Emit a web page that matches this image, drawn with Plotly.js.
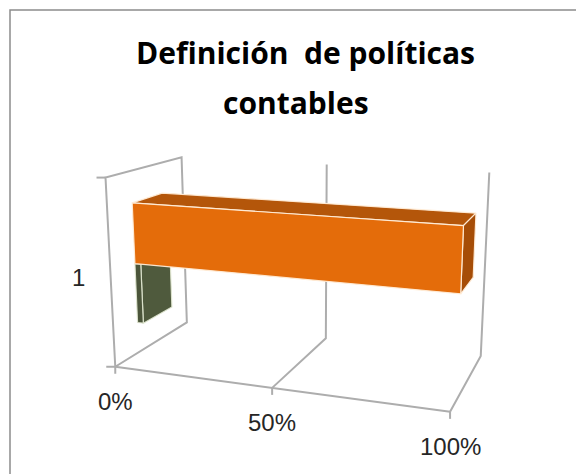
<!DOCTYPE html>
<html>
<head>
<meta charset="utf-8">
<script src="https://cdn.plot.ly/plotly-3.0.1.min.js"></script>
<style>html,body{margin:0;padding:0;background:#fff;}#chart{width:576px;height:474px;}</style>
</head>
<body>
<div id="chart"></div>
<script>
// ---------------- data ----------------
var titleLines = ["Definición\u00a0 de políticas", "contables"];
var categories = ["1"];
var seriesNames = ["Serie 1", "Serie 2"];
var greenValues = [0.02];    // series 1 (lower bar)
var orangeValues = [0.99];   // series 2 (upper bar)
var tickValues = [0, 0.5, 1];
var tickLabels = ["0%", "50%", "100%"];

// ------------- 3-D projection (camera calibrated on the chart box) -------------
// box coordinates: X = value (0..1), Y = depth (0 front .. 1 back), Z = height (0..1)
var calib = [
  [0,0,0, 115,367], [0,0,1, 105,178], [0,1,1, 182,158], [0,1,0, 187,322],
  [1,0,0, 450,411], [1,1,0, 481,357], [1,1,1, 489,173],
  [0.5,1,0, 325,338], [0.5,1,1, 327,163], [0.5,0,0, 273,388]
];
function solveCamera(pts) {
  var n = 11, AtA = [], Atb = [];
  for (var i = 0; i < n; i++) { AtA.push(new Array(n).fill(0)); Atb.push(0); }
  function addRow(r, b) {
    for (var i = 0; i < n; i++) { Atb[i] += r[i] * b; for (var j = 0; j < n; j++) AtA[i][j] += r[i] * r[j]; }
  }
  pts.forEach(function (p) {
    var X = p[0], Y = p[1], Z = p[2], u = p[3], v = p[4];
    addRow([X, Y, Z, 1, 0, 0, 0, 0, -u * X, -u * Y, -u * Z], u);
    addRow([0, 0, 0, 0, X, Y, Z, 1, -v * X, -v * Y, -v * Z], v);
  });
  for (var c = 0; c < n; c++) {
    var piv = c;
    for (var r = c + 1; r < n; r++) if (Math.abs(AtA[r][c]) > Math.abs(AtA[piv][c])) piv = r;
    var t = AtA[c]; AtA[c] = AtA[piv]; AtA[piv] = t; var tb = Atb[c]; Atb[c] = Atb[piv]; Atb[piv] = tb;
    for (var r2 = 0; r2 < n; r2++) {
      if (r2 === c) continue;
      var f = AtA[r2][c] / AtA[c][c];
      for (var k = c; k < n; k++) AtA[r2][k] -= f * AtA[c][k];
      Atb[r2] -= f * Atb[c];
    }
  }
  return Atb.map(function (b, i) { return b / AtA[i][i]; });
}
var P = solveCamera(calib);
function proj(X, Y, Z) {
  var w = P[8] * X + P[9] * Y + P[10] * Z + 1;
  return [(P[0] * X + P[1] * Y + P[2] * Z + P[3]) / w, (P[4] * X + P[5] * Y + P[6] * Z + P[7]) / w];
}

var traces = [];
var gridCol = '#ADADAD';
function line3(pts, color, width) {
  var xs = [], ys = [];
  pts.forEach(function (p) { var q = proj(p[0], p[1], p[2]); xs.push(q[0]); ys.push(q[1]); });
  traces.push({type: 'scatter', mode: 'lines', x: xs, y: ys, line: {color: color, width: width},
               hoverinfo: 'skip', showlegend: false});
}
function face(pts, fill, edge) {
  var xs = [], ys = [];
  pts.forEach(function (p) { var q = proj(p[0], p[1], p[2]); xs.push(q[0]); ys.push(q[1]); });
  xs.push(xs[0]); ys.push(ys[0]);
  traces.push({type: 'scatter', mode: 'lines', x: xs, y: ys, fill: 'toself', fillcolor: fill,
               line: {color: edge, width: 1.2}, hoverinfo: 'skip', showlegend: false});
}

// side wall at value 0 (outline)
line3([[0,0,0],[0,0,1],[0,1,1],[0,1,0],[0,0,0]], gridCol, 2);
// value grid lines on floor and back wall
tickValues.forEach(function (t) {
  if (t === 0) return;
  line3([[t,0,0],[t,1,0],[t,1,1]], gridCol, 2);
});
// floor front edge (value axis line)
line3([[0,0,0],[1,0,0]], gridCol, 2);
// value-axis tick marks
tickValues.forEach(function (t) {
  var q = proj(t, 0, 0);
  traces.push({type: 'scatter', mode: 'lines', x: [q[0], q[0]], y: [q[1], q[1] + 7],
               line: {color: gridCol, width: 2}, hoverinfo: 'skip', showlegend: false});
});
// category-axis tick marks (band edges)
[0, 1].forEach(function (z) {
  var q = proj(0, 0, z);
  traces.push({type: 'scatter', mode: 'lines', x: [q[0] - 9, q[0]], y: [q[1], q[1]],
               line: {color: gridCol, width: 2}, hoverinfo: 'skip', showlegend: false});
});

// bars: clustered in the category band, same depth
var depth0 = 0.3, depth1 = 0.7;
var bandLow = 0.17, bandHigh = 0.83;
function bar3d(val, z0, z1, cols) {
  var d0 = depth0, d1 = depth1;
  face([[0,d0,z1],[val,d0,z1],[val,d1,z1],[0,d1,z1]], cols.top, cols.edge);
  face([[val,d0,z0],[val,d1,z0],[val,d1,z1],[val,d0,z1]], cols.side, cols.edge);
  face([[0,d0,z0],[val,d0,z0],[val,d0,z1],[0,d0,z1]], cols.front, cols.edge);
}
var mid = (bandLow + bandHigh) / 2;
categories.forEach(function (c, i) {
  bar3d(greenValues[i], bandLow, mid, {front: '#4B553A', side: '#4F5A3D', top: '#6C7A50', edge: 'rgba(225,232,210,0.9)'});
  bar3d(orangeValues[i], mid, bandHigh, {front: '#E46C0A', side: '#A64D07', top: '#B4560A', edge: 'rgba(255,236,215,0.95)'});
});

// tick labels
var annotations = [];
tickValues.forEach(function (t, i) {
  var q = proj(t, 0, 0);
  annotations.push({x: q[0], y: q[1] + 35, xref: 'x', yref: 'y', text: tickLabels[i], showarrow: false,
                    xanchor: 'center', yanchor: 'middle', font: {size: 24, color: '#262626'}});
});
categories.forEach(function (c) {
  var q = proj(0, 0, 0.5);
  annotations.push({x: q[0] - 32, y: q[1] + 3, xref: 'x', yref: 'y', text: c, showarrow: false,
                    xanchor: 'center', yanchor: 'middle', font: {size: 24, color: '#262626'}});
});
// title
annotations.push({text: titleLines[0], xref: 'paper', yref: 'paper', x: 305 / 576, y: 1 - 53 / 474,
                  xanchor: 'center', yanchor: 'middle', showarrow: false,
                  font: {family: 'Open Sans, sans-serif', size: 30, color: '#000', weight: 700}});
annotations.push({text: titleLines[1], xref: 'paper', yref: 'paper', x: 296 / 576, y: 1 - 102 / 474,
                  xanchor: 'center', yanchor: 'middle', showarrow: false,
                  font: {family: 'Open Sans, sans-serif', size: 30, color: '#000', weight: 700}});

var layout = {
  width: 576, height: 474,
  margin: {l: 0, r: 0, t: 0, b: 0},
  paper_bgcolor: '#fff', plot_bgcolor: '#fff',
  showlegend: false,
  font: {family: 'Liberation Sans, Arial, sans-serif', color: '#262626'},
  xaxis: {range: [0, 576], visible: false, fixedrange: true},
  yaxis: {range: [474, 0], visible: false, fixedrange: true},
  annotations: annotations,
  shapes: [
    {type: 'rect', xref: 'paper', yref: 'paper', x0: 10 / 576, x1: 1.1, y0: -0.1, y1: 1 - 10 / 474,
     line: {color: '#8C8C8C', width: 1.5}, fillcolor: 'rgba(0,0,0,0)'}
  ]
};

Plotly.newPlot('chart', traces, layout, {displayModeBar: false, staticPlot: true});
</script>
</body>
</html>
